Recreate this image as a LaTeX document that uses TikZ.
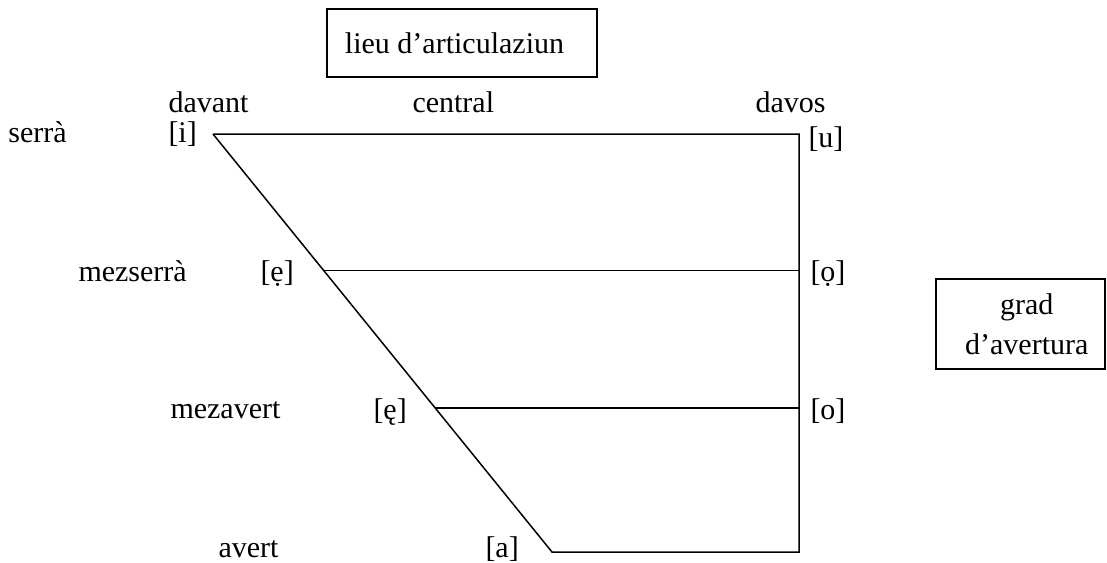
\documentclass[tikz,border=0pt,12pt]{standalone}
\usepackage{fontspec}
\setmainfont{Liberation Serif}
\usetikzlibrary{positioning,calc}

\begin{document}
\begin{tikzpicture}[
  x=0.4pt, y=-0.4pt,
  lbl/.style={anchor=base west, inner sep=0pt, font=\fontsize{12}{14}\selectfont},
  box/.style={rectangle, draw, line width=0.6pt, inner sep=0pt, align=center, font=\fontsize{12}{14}\selectfont},
  edge/.style={line width=0.6pt},
]
  \useasboundingbox (0,0) rectangle (1107,562);

  % Corners of the chart
  \coordinate (ci) at (213,134);
  \coordinate (cu) at (799,134);
  \coordinate (ca) at (552,552);
  \coordinate (cau) at (799,552);
  \coordinate (ce) at ($(ci)!0.327!(ca)$);
  \coordinate (co) at (799,271);
  \coordinate (ceo) at ($(ci)!0.656!(ca)$);
  \coordinate (coo) at (799,408);

  % Chart lines
  \draw[edge] (ci) -- (cu) -- (cau) -- (ca) -- (ci);
  \draw[edge] (ce) -- (ce -| co);
  \draw[edge] (ceo) -- (ceo -| coo);

  % Column heads
  \node[lbl] (davant) at (168,112) {davant};
  \node[lbl] (central) at (412,112) {central};
  \node[lbl] (davos) at (755,112) {davos};

  % Rows
  \node[lbl] (serra) at (8,142) {serrà};
  \node[lbl] (vi) at (168,142) {[i]};
  \node[lbl] (vu) at (808,147) {[u]};

  \node[lbl] (mezserra) at (78,281) {mezserrà};
  \node[lbl] (vec) at (260,281) {[ẹ]};
  \node[lbl] (voc) at (810,281) {[ọ]};

  \node[lbl] (mezavert) at (170,418) {mezavert};
  \node[lbl] (veo) at (373,419) {[ę]};
  \node[lbl] (voo) at (810,419) {[o]};

  \node[lbl] (avert) at (218,557) {avert};
  \node[lbl] (va) at (485,557) {[a]};

  % Axis boxes
  \node[box, minimum width=108pt, minimum height=27.2pt] (lieu) at (462,43) {lieu d’articulaziun\hspace*{6pt}};
  \node[box, minimum width=67.6pt, minimum height=36pt, font=\fontsize{12}{16}\selectfont] (grad) at (1020.5,324) {\hspace*{5pt}grad\\\hspace*{5pt}d’avertura};
\end{tikzpicture}
\end{document}
